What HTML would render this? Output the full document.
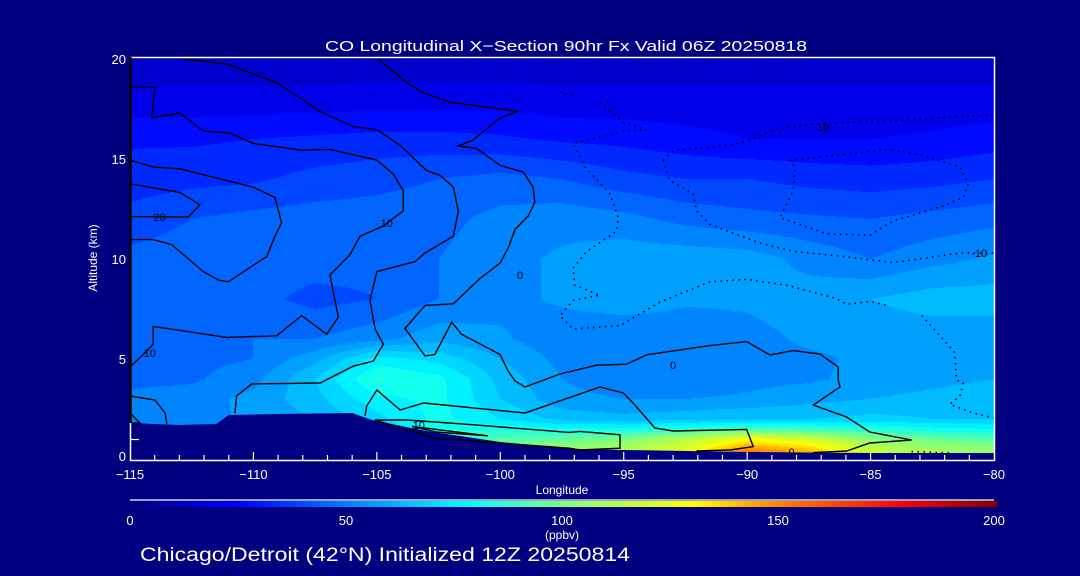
<!DOCTYPE html>
<html><head><meta charset="utf-8"><style>
html,body{margin:0;padding:0;background:#000080;}
#wrap{position:relative;width:1080px;height:576px;overflow:hidden;background:#000080;font-family:"Liberation Sans",sans-serif;}
canvas{position:absolute;left:130px;top:59px;}
svg{position:absolute;left:0;top:0;}
</style></head><body>
<div id="wrap">
<canvas id="heat" width="864" height="400"></canvas>
<svg id="svg" width="1080" height="576"></svg>
</div>
<script>
const lons=[-115,-112.5,-110,-107.5,-105,-102.5,-100,-97.5,-95,-92.5,-90,-87.5,-85,-82.5,-80];
const alts=[0,0.5,1,1.5,2,3,4,5,6,8,10,12,14,16,18,20];
const row0=[50,50,52,55,62,90,100,110,115,125,165,150,118,112,108];
const row05=[50,50,52,55,62,90,98,106,110,122,148,138,115,108,104];
const row1=[50,50,52,55,62,86,92,95,100,112,128,118,102,96,92];
const row15=[50,50,52,55,65,84,82,80,80,85,90,88,84,80,78];
const row2=[50,52,55,60,70,80,72,64,62,64,66,66,68,66,66];
const row3=[50,51,56,64,76,80,66,56,54,54,55,58,60,62,64];
const row4=[46,47,52,66,85,80,64,54,50,50,52,53,56,58,60];
const row5=[46,46,48,58,75,70,60,52,48,50,52,53,55,56,56];
const row6=[46,48,48,48,52,58,55,50,48,50,52,55,56,56,56];
const row8=[44,46,44,40,42,48,52,55,58,55,55,57,60,63,63];
const row10=[44,46,46,45,44,48,52,55,58,58,57,52,48,52,55];
const row12=[38,42,44,45,45,46,50,52,50,46,44,43,42,44,46];
const row14=[33,34,35,38,40,42,44,42,38,36,36,34,33,34,36];
const row16=[29,29,30,31,32,32,31,29,28,26,24,24,24,25,27];
const row18=[20,20,20,20,21,21,21,20,20,20,20,20,20,20,20];
const row20=[14,14,14,14,14,14,14,14,14,14,14,14,14,14,14];
const grid=[row0,row05,row1,row15,row2,row3,row4,row5,row6,row8,row10,row12,row14,row16,row18,row20];
const terrain=[[-115,1.8],[-113,1.7],[-111.5,1.75],[-111,2.2],[-109,2.25],[-106,2.3],[-105.2,1.95],[-103,1.4],[-100,0.85],[-97,0.5],[-95,0.45],[-90,0.35],[-85,0.3],[-80,0.3]];
const xTicks=[-115,-110,-105,-100,-95,-90,-85,-80];
const yTicks=[0,5,10,15,20];
const cbTicks=[0,50,100,150,200];
const contours=[
 {d:false,p:[[-112.84,20],[-111.08,19.75],[-109.06,18.82],[-107.3,17.38],[-105.96,16.62],[-105,16.46],[-104.07,15.7],[-102.99,14.43],[-102.44,14.18],[-101.9,13.59],[-101.7,12.4],[-101.9,11.14],[-103.05,10.3],[-103.45,9.87],[-105,9.37],[-105.28,7.93],[-105.07,6.5],[-104.74,5.74],[-105.14,4.9],[-105.96,4.64],[-107.3,3.8],[-110.07,3.75],[-110.68,3.15],[-110.75,2.3]]},
 {d:false,p:[[-104.94,20],[-103.79,18.82],[-103.12,18.31],[-102.04,17.84],[-100.82,17.64],[-99.27,17.38],[-100.01,17.05],[-101.1,15.95],[-101.7,15.65],[-100.96,15.53],[-100.01,14.68],[-99.07,14.35],[-98.67,13.59],[-98.6,12.83],[-98.87,12.15],[-99.4,11.48],[-99.68,10.55],[-100.01,9.79],[-100.82,9.03],[-101.9,7.76],[-103.05,7.68],[-103.86,6.53],[-103.05,5.15],[-102.65,5.23],[-101.97,6.84],[-101.57,6.24],[-100.01,5.23],[-99.68,4.39],[-99.4,3.9],[-99.0,3.6],[-97.58,4.25],[-96.1,4.69],[-94.88,4.74],[-94.07,5.21],[-91.51,5.67],[-90.02,5.87],[-89.08,5.2],[-88.13,5.42],[-87.05,5.25],[-86.31,4.6],[-86.31,3.95],[-86.24,3.6],[-87.32,2.7],[-85.97,2.1],[-85.03,1.35],[-83.34,0.95],[-85.03,0.8],[-85.97,0.4],[-87.32,0.32]]},
 {d:false,p:[[-105.48,2.15],[-105.41,2.65],[-105,3.45],[-104.06,2.45],[-103.1,2.8],[-99,2.3],[-95.96,3.6],[-95.02,3.3],[-94.62,2.8],[-93.74,1.55],[-93,1.4],[-90.02,1.48],[-89.75,0.62],[-90.7,0.45],[-92.05,0.4]]},
 {d:false,p:[[-105.08,1.95],[-103.8,1.95],[-101.2,1.72],[-97.2,1.33],[-96.77,1.38],[-95.15,1.21],[-95.15,0.54],[-96.77,0.45],[-97.2,0.54],[-102.6,1.03],[-105.08,1.95]]},
 {d:false,p:[[-103.58,1.63],[-100.5,1.16],[-102.6,1.35],[-103.58,1.63]]},
 {d:false,p:[[-115,4.6],[-114.39,5.32],[-114.06,5.74],[-114.06,6.63],[-111.08,6.08],[-109.06,6.16],[-108.05,7.17],[-107.03,6.24],[-106.56,7.09],[-106.9,9.2],[-106.09,10.21],[-105.68,11.14],[-104.74,11.65],[-103.93,12.41],[-103.93,13.42],[-104.34,14.26],[-105,14.94],[-106.9,15.48],[-108.05,15.44],[-110,15.78],[-110.95,16.29],[-112.03,16.4],[-112.98,17.3],[-114.12,17.05],[-113.99,18.57],[-115,18.62]]},
 {d:false,p:[[-115,14.94],[-114.06,14.6],[-112.98,14.51],[-110,13.59],[-109.13,13.08],[-108.86,11.81],[-109.13,11.14],[-109.46,10.13],[-111.02,8.86],[-111.4,8.94],[-112.03,9.37],[-113.31,10.72],[-114.06,10.97],[-115,10.97]]},
 {d:false,p:[[-115,13.76],[-112.98,13.33],[-112.17,12.71],[-112.64,12.1],[-115,12.12]]},
 {d:false,p:[[-115,3.15],[-113.99,2.95],[-113.58,2.3],[-113.51,1.75]]},
 {d:false,p:[[-115,2.3],[-114.6,1.8],[-115,1.8]]},
 {d:true,p:[[-97.58,18.35],[-97.05,18.2]]},
 {d:true,p:[[-95.96,17.81],[-95.02,16.83],[-94.07,16.46],[-94.88,16.41],[-97.05,15.78],[-96.57,14.6],[-95.56,13.25],[-95.22,12.07],[-95.29,11.39],[-96.5,10.38],[-97.05,9.54],[-96.98,8.69],[-95.96,8.19],[-97.05,7.93],[-97.58,7.17],[-97.05,6.5],[-95.15,6.67],[-93.53,7.85],[-91.51,8.86],[-90.02,8.98],[-88.4,8.69],[-86.38,8.02],[-85.97,7.73],[-85.03,7.88],[-84.22,7.65]]},
 {d:true,p:[[-93.4,14.94],[-92.99,15.44],[-91.24,15.61],[-90.02,15.86],[-88.94,16.46],[-87.32,16.76],[-84.08,16.91],[-80.03,17.22]]},
 {d:true,p:[[-93.4,14.94],[-93.13,13.92],[-92.19,13.25],[-92.05,12.41],[-91.51,11.73],[-89.49,10.8],[-88.13,10.38],[-86.11,10.13],[-84.08,9.82],[-81.38,10.3],[-80.03,10.3]]},
 {d:true,p:[[-88.27,14.94],[-84.29,15.48],[-82.87,15.19],[-81.38,14.6],[-81.04,13.76],[-81.25,13.08],[-82.06,12.66],[-84.08,11.9],[-85.03,11.19],[-86.78,11.26],[-88.67,12.07],[-88.13,13.42],[-88.06,14.6],[-88.27,14.94]]},
 {d:true,p:[[-82.93,7.17],[-82.06,5.99],[-81.59,5.32],[-81.52,3.96],[-81.25,3.8],[-81.38,3.15],[-81.79,2.73],[-80.84,2.3],[-80.03,2.05]]},
 {d:true,p:[[-83.34,0.37],[-81.72,0.3]]}
];
const clabels=[[-114.2,5.3,"10"],[-113.8,12.1,"20"],[-104.6,11.8,"10"],[-99.2,9.2,"0"],[-87,16.6,"-10"],[-80.6,10.3,"-10"],[-93,4.7,"0"],[-103.3,1.7,"10"],[-88.2,0.35,"0"]];

const X0=130,X1=994,Y0=459,PXKM=20;
function xs(lon){return X0+(lon+115)/35*(X1-X0);}
function ys(a){return Y0-a*PXKM;}
const stops=[[0,[0,0,128]],[25,[0,0,255]],[50,[0,128,255]],[78,[0,255,255]],[100,[128,255,128]],[130,[255,255,0]],[150,[255,128,0]],[178,[255,0,0]],[200,[128,0,0]]];
function cmap(v){v=Math.max(0,Math.min(200,v));for(let i=1;i<stops.length;i++){if(v<=stops[i][0]){const a=stops[i-1],b=stops[i],t=(v-a[0])/(b[0]-a[0]);return [0,1,2].map(k=>Math.round(a[1][k]+t*(b[1][k]-a[1][k])));}}return stops[stops.length-1][1];}
function val(lon,alt){
 let i=Math.min(lons.length-2,Math.max(0,Math.floor((lon-lons[0])/2.5)));
 let tx=(lon-lons[i])/(lons[i+1]-lons[i]);
 let j=0;while(j<alts.length-2&&alts[j+1]<alt)j++;
 let ty=(alt-alts[j])/(alts[j+1]-alts[j]);ty=Math.max(0,Math.min(1,ty));
 const a=grid[j][i],b=grid[j][i+1],c=grid[j+1][i],d=grid[j+1][i+1];
 return (a*(1-tx)+b*tx)*(1-ty)+(c*(1-tx)+d*tx)*ty;
}
const cv=document.getElementById('heat'),ctx=cv.getContext('2d');
const img=ctx.createImageData(864,400);
for(let py=0;py<400;py++){const alt=(Y0-(59+py+0.5))/PXKM;for(let px=0;px<864;px++){const lon=-115+(px+0.5)/864*35;let v=val(lon,alt);v=Math.floor(v/6)*6+3;const c=cmap(v);const k=(py*864+px)*4;img.data[k]=c[0];img.data[k+1]=c[1];img.data[k+2]=c[2];img.data[k+3]=255;}}
ctx.putImageData(img,0,0);

const svg=document.getElementById('svg');const NS='http://www.w3.org/2000/svg';
function mk(t,at,parent){const e=document.createElementNS(NS,t);for(const k in at)e.setAttribute(k,at[k]);(parent||svg).appendChild(e);return e;}
let tp=terrain.map(p=>xs(p[0])+','+ys(p[1])).join(' ')+' '+X1+','+(Y0+1)+' '+X0+','+(Y0+1);
let terr=mk('polygon',{points:tp,fill:'#000080'});


contours.forEach((c,i)=>{
 const pl=mk('polyline',{points:c.p.map(p=>xs(p[0]).toFixed(1)+','+ys(p[1]).toFixed(1)).join(' '),fill:'none',stroke:'#000','stroke-width':c.d?1.6:1.4,'stroke-dasharray':c.d?'1.5 4.5':'none'});
 
 
});
clabels.forEach(l=>{
 const t=mk('text',{x:xs(l[0]),y:ys(l[1])+4,'font-size':11,fill:'#000','text-anchor':'middle','font-family':'Liberation Sans, sans-serif'});t.textContent=l[2];
 
 
});
let fr=mk('path',{d:`M${X0} 57.5H${X1+0.5}V460.5H${X0}`,fill:'none',stroke:'#fff','stroke-width':1.5});


let la=mk('line',{x1:130.5,y1:57,x2:130.5,y2:423,stroke:'#000','stroke-width':2.5});


let lw=mk('line',{x1:130.5,y1:423,x2:130.5,y2:461,stroke:'#fff','stroke-width':1.5});


let mt=mk('line',{x1:130,y1:439.5,x2:139,y2:439.5,stroke:'#fff','stroke-width':1.2});


for(let lon=-114;lon<-80;lon++){const major=lon%5===0;const t=mk('line',{x1:xs(lon),x2:xs(lon),y1:460,y2:major?452:455,stroke:'#fff','stroke-width':1.2});
 
 }
xTicks.forEach(v=>{const t=mk('text',{x:xs(v),y:479,'font-size':13,fill:'#fff','text-anchor':'middle'});t.textContent=(v<0?'\u2212':'')+Math.abs(v);
 
 });
yTicks.forEach(v=>{const t=mk('text',{x:126,y:Math.min(ys(v)+5,461),'font-size':13,fill:'#fff','text-anchor':'end'});t.textContent=v;
 
 });
let tt=mk('text',{x:566,y:51,'font-size':15,fill:'#fff','text-anchor':'middle',textLength:482,lengthAdjust:'spacingAndGlyphs'});tt.textContent='CO Longitudinal X\u2212Section 90hr  Fx Valid 06Z 20250818';


let yl=mk('text',{x:0,y:0,'font-size':12,fill:'#fff','text-anchor':'middle',transform:'translate(97,258) rotate(-90)'});yl.textContent='Altitude (km)';


let xl=mk('text',{x:562,y:494,'font-size':12,fill:'#fff','text-anchor':'middle'});xl.textContent='Longitude';


const defs=mk('defs',{});const lg=mk('linearGradient',{id:'cb',x1:0,x2:1,y1:0,y2:0},defs);
stops.forEach(s=>mk('stop',{offset:s[0]/200,'stop-color':`rgb(${s[1].join(',')})`},lg));
let cl=mk('line',{x1:130,x2:994,y1:500,y2:500,stroke:'#fff','stroke-width':1.2});


let cb=mk('rect',{x:130,y:501,width:867,height:6,fill:'url(#cb)'});


cbTicks.forEach(v=>{const t=mk('text',{x:130+v/200*864,y:525,'font-size':13,fill:'#fff','text-anchor':'middle'});t.textContent=v;
 
 });
let un=mk('text',{x:562,y:539,'font-size':12,fill:'#fff','text-anchor':'middle'});un.textContent='(ppbv)';


let ft=mk('text',{x:140,y:561,'font-size':19,fill:'#fff',textLength:490,lengthAdjust:'spacingAndGlyphs'});ft.textContent='Chicago/Detroit (42\u00b0N) Initialized 12Z 20250814';


</script>
</body></html>
